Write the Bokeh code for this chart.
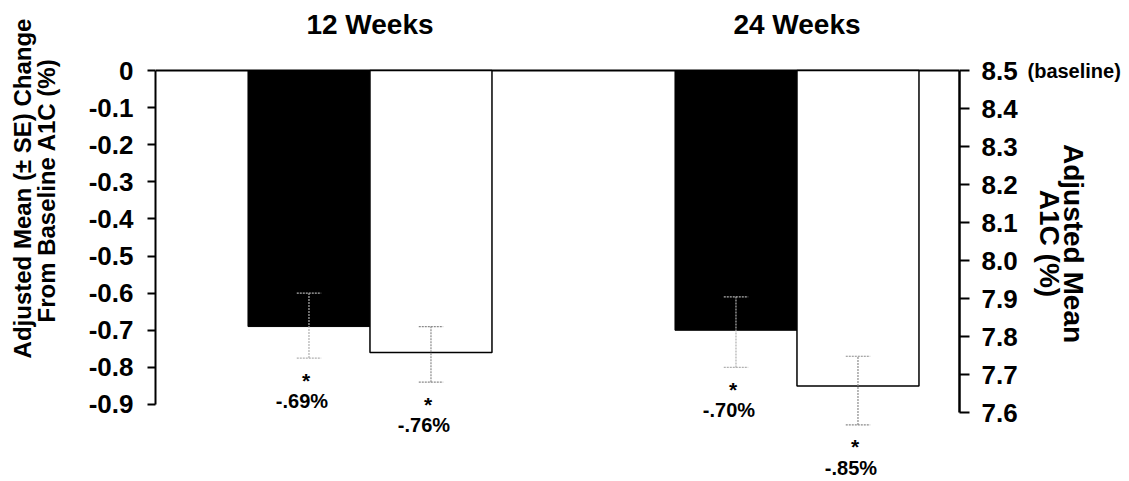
import math
from bokeh.plotting import figure
from bokeh.layouts import row
from bokeh.models import Range1d, LinearAxis, FixedTicker
from bokeh.core.properties import value
from bokeh.embed import file_html
from bokeh.resources import INLINE

# ---------------- data ----------------
timepoints = ["12 Weeks", "24 Weeks"]
black_change = [-0.69, -0.70]
white_change = [-0.76, -0.85]
black_se_upper = [-0.60, -0.61]
black_se_lower = [-0.775, -0.80]
white_se_upper = [-0.69, -0.77]
white_se_lower = [-0.84, -0.955]
black_labels = ["-.69%", "-.70%"]
white_labels = ["-.76%", "-.85%"]
left_ticks = [0, -0.1, -0.2, -0.3, -0.4, -0.5, -0.6, -0.7, -0.8, -0.9]
left_tick_labels = ["0", "-0.1", "-0.2", "-0.3", "-0.4", "-0.5", "-0.6", "-0.7", "-0.8", "-0.9"]
right_ticks = [8.5, 8.4, 8.3, 8.2, 8.1, 8.0, 7.9, 7.8, 7.7, 7.6]
right_tick_labels = ["8.5", "8.4", "8.3", "8.2", "8.1", "8.0", "7.9", "7.8", "7.7", "7.6"]
baseline_note = "(baseline)"
left_title = ["Adjusted Mean (\u00b1 SE) Change", "From Baseline A1C (%)"]
right_title = ["Adjusted Mean", "A1C (%)"]

# ---------------- layout ----------------
TOTAL_W, H = 1129, 481
LEFT_W = 75                  # panel holding the left axis title
MAIN_W = 951                 # main chart
RIGHT_W = TOTAL_W - LEFT_W - MAIN_W
BORDER_L, BORDER_R = 80, 67
FRAME_W = MAIN_W - BORDER_L - BORDER_R
PX_PER_X = 122.0             # one bar width in pixels
ZERO_PX = 70.0               # distance of value 0 from top of canvas
PX_PER_Y = 371.1
PX_PER_Y_R = 380.0
group_centers = [1.758, 5.258]
BAR_W = 1.0
CAP = 0.1
TITLE_Y = 0.124
FONT_NAME = "Liberation Sans"
FONT = value(FONT_NAME)


def bare(fig):
    fig.min_border_left = fig.min_border_right = 0
    fig.min_border_top = fig.min_border_bottom = 0
    fig.outline_line_color = None
    fig.xgrid.visible = False
    fig.ygrid.visible = False
    fig.background_fill_color = "white"
    fig.border_fill_color = "white"


x_black = [c - BAR_W / 2 for c in group_centers]
x_white = [c + BAR_W / 2 for c in group_centers]

p = figure(width=MAIN_W, height=H, output_backend="svg", toolbar_location=None,
           x_range=Range1d(0, FRAME_W / PX_PER_X),
           y_range=Range1d(-(H - ZERO_PX) / PX_PER_Y, ZERO_PX / PX_PER_Y),
           x_axis_location=None, y_axis_location="left")
bare(p)
p.min_border_left = BORDER_L
p.min_border_right = BORDER_R

p.extra_y_ranges = {"a1c": Range1d(8.5 - (H - ZERO_PX) / PX_PER_Y_R, 8.5 + ZERO_PX / PX_PER_Y_R)}

# left axis
ya = p.yaxis[0]
ya.bounds = (min(left_ticks), max(left_ticks))
ya.ticker = FixedTicker(ticks=left_ticks)
ya.major_label_overrides = {float(t): s for t, s in zip(left_ticks, left_tick_labels)}
ya.minor_tick_line_color = None
ya.axis_line_width = 2
ya.major_tick_line_width = 2
ya.major_tick_out = 8
ya.major_tick_in = 0
ya.major_label_standoff = 14
ya.major_label_text_font = FONT_NAME
ya.major_label_text_font_style = "bold"
ya.major_label_text_font_size = "26px"
ya.major_label_text_color = "black"

# right axis
ra = LinearAxis(y_range_name="a1c")
ra.bounds = (min(right_ticks), max(right_ticks))
ra.ticker = FixedTicker(ticks=right_ticks)
ra.major_label_overrides = {float(t): s for t, s in zip(right_ticks, right_tick_labels)}
ra.minor_tick_line_color = None
ra.axis_line_width = 2.5
ra.major_tick_line_width = 2
ra.major_tick_out = 10
ra.major_tick_in = 0
ra.major_label_standoff = 12
ra.major_label_text_font = FONT_NAME
ra.major_label_text_font_style = "bold"
ra.major_label_text_font_size = "26px"
ra.major_label_text_color = "black"
p.add_layout(ra, "right")

# baseline line at 0 across the plot
p.segment(x0=[0], y0=[0], x1=[FRAME_W / PX_PER_X], y1=[0], line_color="black", line_width=2)

# bars
p.vbar(x=x_black, top=0, bottom=black_change, width=BAR_W,
       fill_color="black", line_color="black", line_width=1)
p.vbar(x=x_white, top=0, bottom=white_change, width=BAR_W,
       fill_color="white", line_color="black", line_width=1.5)

# error bars
for xs, up, lo, col in ((x_black, black_se_upper, black_se_lower, "#b0b0b0"),
                        (x_white, white_se_upper, white_se_lower, "#8a8a8a")):
    p.segment(x0=xs, y0=lo, x1=xs, y1=up, line_color=col, line_width=1.2, line_dash="2 1")
    p.segment(x0=[x - CAP for x in xs], y0=up, x1=[x + CAP for x in xs], y1=up,
              line_color=col, line_width=1.2, line_dash="2 1")
    p.segment(x0=[x - CAP for x in xs], y0=lo, x1=[x + CAP for x in xs], y1=lo,
              line_color=col, line_width=1.2, line_dash="2 1")

# significance stars and value labels
for xs, lo, labs in ((x_black, black_se_lower, black_labels),
                     (x_white, white_se_lower, white_labels)):
    p.text(x=xs, y=lo, text=["*"] * len(xs), x_offset=-3, y_offset=22, text_align="center",
           text_baseline="middle", text_font=FONT, text_font_style="bold",
           text_font_size="21px", text_color="black")
    p.text(x=xs, y=lo, text=labs, x_offset=-7, y_offset=43, text_align="center",
           text_baseline="middle", text_font=FONT, text_font_style="bold",
           text_font_size="20px", text_color="black")

# group titles
p.text(x=group_centers, y=[TITLE_Y] * len(group_centers), text=timepoints,
       text_align="center", text_baseline="middle", text_font=FONT,
       text_font_style="bold", text_font_size="28px", text_color="black")

# ---- left panel: left axis title (pixel coordinates, y downward) ----
pl = figure(width=LEFT_W, height=H, output_backend="svg", toolbar_location=None,
            x_range=Range1d(0, LEFT_W), y_range=Range1d(H, 0),
            x_axis_location=None, y_axis_location=None)
bare(pl)
pl.text(x=[22, 46], y=[188, 190], text=left_title, angle=math.pi / 2,
        text_align="center", text_baseline="middle", text_font=FONT,
        text_font_style="bold", text_font_size="24px", text_color="black")

# ---- right panel: "(baseline)" note and right axis title ----
x0 = LEFT_W + MAIN_W
pr = figure(width=RIGHT_W, height=H, output_backend="svg", toolbar_location=None,
            x_range=Range1d(x0, TOTAL_W), y_range=Range1d(H, 0),
            x_axis_location=None, y_axis_location=None)
bare(pr)
pr.text(x=[1073, 1049], y=[243, 243], text=right_title, angle=-math.pi / 2,
        text_align="center", text_baseline="middle", text_font=FONT,
        text_font_style="bold", text_font_size="28px", text_color="black")
pr.text(x=[x0 + 1], y=[70], text=[baseline_note], text_align="left",
        text_baseline="middle", text_font=FONT, text_font_style="bold",
        text_font_size="20px", text_color="black")

layout = row(pl, p, pr, spacing=0)
open("out.html", "w").write(file_html(layout, INLINE))
